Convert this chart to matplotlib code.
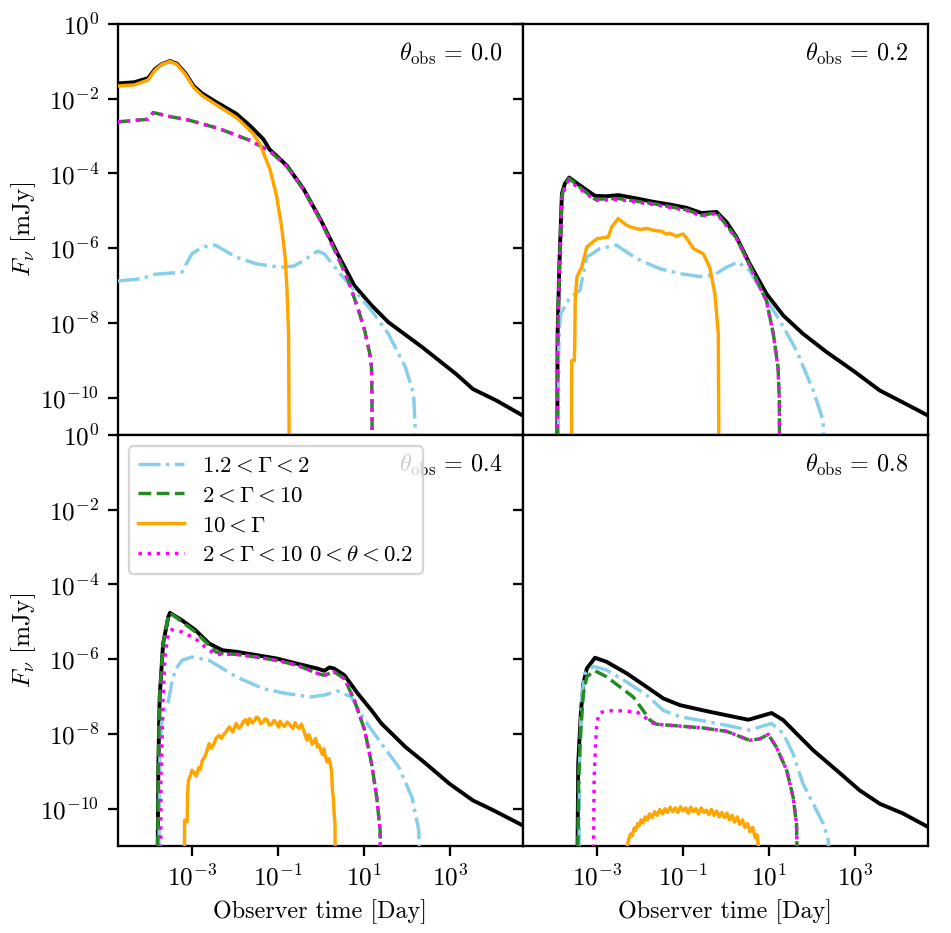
import numpy as np
import matplotlib
matplotlib.use("Agg")
import matplotlib.pyplot as plt
from matplotlib.ticker import NullLocator

plt.rcParams['mathtext.fontset'] = 'cm'
plt.rcParams['font.family'] = ['serif']
plt.rcParams['font.serif'] = ['cmr10']
plt.rcParams['axes.formatter.use_mathtext'] = True
plt.rcParams['axes.unicode_minus'] = False
plt.rcParams['font.size'] = 10

# ---------------- data (log10 of time [day] and log10 of flux [mJy]) ----------------
angles = ["0.0", "0.2", "0.4", "0.8"]
labels = [r"$1.2 < \Gamma < 2$", r"$2 < \Gamma < 10$", r"$10 < \Gamma$",
          r"$2 < \Gamma < 10\ 0 < \theta < 0.2$"]
xticks = [1e-3, 1e-1, 1e1, 1e3]
yticks = [1e0, 1e-2, 1e-4, 1e-6, 1e-8, 1e-10]

# theta_obs = 0.0
tl_black_t = [-4.73, -4.34, -4.02, -3.86, -3.71, -3.51, -3.35, -3.15, -2.96, -2.76, -2.45, -1.97, -1.66, -1.34, -1.19, -0.79, -0.40, 0.00, 0.39, 0.78, 1.18, 1.57, 2.36, 3.15, 3.54, 4.09, 4.70]
tl_black_f = [-1.59, -1.56, -1.45, -1.21, -1.08, -0.99, -1.06, -1.32, -1.66, -1.86, -2.08, -2.40, -2.71, -3.08, -3.36, -3.79, -4.42, -5.25, -6.15, -7.00, -7.53, -7.98, -8.65, -9.37, -9.77, -10.08, -10.48]
tl_sky_t = [-4.73, -4.18, -3.86, -3.23, -3.15, -3.00, -2.76, -2.45, -1.97, -1.50, -0.95, -0.63, -0.40, -0.08, 0.08, 0.39, 0.78, 1.18, 1.57, 1.97, 2.16, 2.28]
tl_sky_f = [-6.88, -6.82, -6.70, -6.64, -6.46, -6.15, -5.97, -5.92, -6.24, -6.42, -6.51, -6.48, -6.33, -6.08, -6.15, -6.60, -7.13, -7.67, -8.29, -9.19, -9.90, -13.0]
tl_green_t = [-4.73, -4.02, -3.90, -3.55, -3.08, -2.37, -1.66, -1.19, -0.79, -0.40, 0.00, 0.39, 0.63, 0.86, 1.02, 1.14, 1.18, 1.19, 1.20]
tl_green_f = [-2.62, -2.55, -2.37, -2.47, -2.57, -2.80, -3.11, -3.40, -3.81, -4.44, -5.27, -6.22, -6.85, -7.60, -8.20, -8.83, -9.19, -10.08, -13.0]
tl_orange_t = [-4.73, -4.34, -4.02, -3.86, -3.71, -3.51, -3.35, -3.15, -2.96, -2.76, -2.45, -1.97, -1.82, -1.58, -1.42, -1.18, -1.03, -0.91, -0.83, -0.79, -0.75, -0.73]
tl_orange_f = [-1.66, -1.63, -1.50, -1.24, -1.09, -1.00, -1.08, -1.35, -1.70, -1.92, -2.15, -2.50, -2.66, -2.93, -3.20, -3.90, -4.60, -5.45, -6.25, -7.04, -8.29, -13.0]
tl_mag_t = tl_green_t
tl_mag_f = tl_green_f

# theta_obs = 0.2
tr_black_t = [-3.93, -3.92, -3.88, -3.82, -3.75, -3.65, -3.51, -3.24, -3.05, -2.78, -2.51, -2.08, -1.69, -1.31, -0.92, -0.57, -0.22, 0.01, 0.24, 0.55, 0.94, 1.33, 1.79, 2.34, 2.96, 3.58, 4.12, 4.70]
tr_black_f = [-13.0, -8.29, -6.51, -4.54, -4.27, -4.11, -4.23, -4.45, -4.60, -4.61, -4.58, -4.67, -4.76, -4.83, -4.92, -5.06, -5.03, -5.30, -5.70, -6.42, -7.22, -7.80, -8.29, -8.78, -9.28, -9.81, -10.13, -10.48]
tr_sky_t = [-3.91, -3.90, -3.88, -3.85, -3.63, -3.40, -3.32, -3.24, -2.93, -2.55, -2.08, -1.54, -1.07, -0.61, -0.30, 0.01, 0.28, 0.55, 0.86, 1.25, 1.64, 2.03, 2.26, 2.30]
tr_sky_f = [-13.0, -9.00, -8.20, -7.76, -7.31, -7.13, -6.68, -6.24, -6.01, -5.92, -6.28, -6.55, -6.68, -6.76, -6.73, -6.51, -6.37, -6.60, -7.22, -7.94, -8.74, -9.81, -10.62, -13.0]
tr_green_t = [-3.93, -3.92, -3.88, -3.82, -3.75, -3.65, -3.51, -3.24, -3.05, -2.51, -1.69, -0.92, -0.57, -0.22, 0.24, 0.63, 0.94, 1.10, 1.21, 1.24, 1.25]
tr_green_f = [-13.0, -8.40, -6.60, -4.60, -4.30, -4.13, -4.27, -4.52, -4.69, -4.67, -4.81, -4.97, -5.12, -5.05, -5.72, -6.65, -7.40, -8.29, -9.19, -10.08, -13.0]
tr_orange_t = [-3.60, -3.59, -3.53, -3.52, -3.51, -3.47, -3.36, -3.24, -3.01, -2.74, -2.66, -2.51, -2.31, -2.20, -2.00, -1.85, -1.69, -1.50, -1.40, -1.31, -1.15, -1.00, -0.90, -0.76, -0.53, -0.38, -0.26, -0.18, -0.16]
tr_orange_f = [-13.0, -9.01, -9.01, -8.50, -7.40, -6.77, -6.51, -5.97, -5.75, -5.70, -5.43, -5.21, -5.39, -5.44, -5.50, -5.47, -5.52, -5.55, -5.62, -5.60, -5.68, -5.62, -5.76, -6.01, -6.15, -6.51, -7.22, -8.29, -13.0]
tr_mag_t = tr_green_t
tr_mag_f = [-13.0, -8.50, -6.70, -4.70, -4.40, -4.18, -4.32, -4.55, -4.72, -4.70, -4.83, -4.99, -5.14, -5.07, -5.74, -6.67, -7.42, -8.31, -9.21, -10.10, -13.0]

# theta_obs = 0.4
bl_black_t = [-3.81, -3.78, -3.75, -3.67, -3.55, -3.51, -3.23, -2.92, -2.60, -2.29, -1.97, -1.50, -1.03, -0.55, -0.08, 0.08, 0.20, 0.31, 0.55, 0.86, 1.18, 1.41, 1.97, 2.44, 2.99, 3.54, 4.01, 4.70]
bl_black_f = [-13.0, -8.79, -7.01, -5.58, -4.87, -4.76, -4.96, -5.22, -5.58, -5.76, -5.80, -5.89, -5.98, -6.12, -6.25, -6.31, -6.22, -6.25, -6.43, -6.92, -7.37, -7.72, -8.35, -8.79, -9.33, -9.78, -10.04, -10.45]
bl_sky_t = [-3.78, -3.75, -3.71, -3.63, -3.55, -3.47, -3.39, -3.23, -3.00, -2.60, -1.97, -1.34, -0.79, -0.24, 0.08, 0.39, 0.71, 1.02, 1.41, 1.81, 2.12, 2.28, 2.32]
bl_sky_f = [-13.0, -8.79, -7.72, -7.37, -7.14, -6.65, -6.29, -6.03, -5.94, -6.03, -6.47, -6.79, -6.92, -7.01, -6.96, -6.85, -7.01, -7.63, -8.26, -8.88, -9.69, -10.58, -13.0]
bl_green_t = [-3.81, -3.78, -3.75, -3.67, -3.55, -3.51, -3.23, -2.92, -2.60, -2.45, -2.29, -1.97, -1.50, -1.03, -0.55, -0.08, 0.08, 0.31, 0.55, 0.78, 1.02, 1.18, 1.30, 1.38, 1.40]
bl_green_f = [-13.0, -8.79, -7.01, -5.58, -4.87, -4.76, -5.00, -5.27, -5.63, -5.80, -5.85, -5.87, -5.94, -6.03, -6.16, -6.38, -6.43, -6.34, -6.52, -7.10, -7.90, -8.79, -9.69, -10.58, -13.0]
bl_orange_t = [-3.18, -3.17, -3.15, -3.11, -3.10, -3.08, -3.03, -3.00, -2.95, -2.90, -2.84, -2.80, -2.76, -2.70, -2.65, -2.60, -2.55, -2.50, -2.44, -2.37, -2.31, -2.25, -2.19, -2.13, -2.05, -1.97, -1.91, -1.85, -1.80, -1.75, -1.70, -1.66, -1.60, -1.55, -1.50, -1.45, -1.40, -1.34, -1.30, -1.25, -1.20, -1.15, -1.09, -1.03, -0.98, -0.95, -0.90, -0.85, -0.78, -0.71, -0.65, -0.60, -0.55, -0.50, -0.45, -0.40, -0.36, -0.32, -0.28, -0.25, -0.20, -0.16, -0.12, -0.08, -0.04, 0.00, 0.04, 0.07, 0.11, 0.15, 0.19, 0.22, 0.25, 0.27, 0.29, 0.31, 0.33, 0.34]
bl_orange_f = [-13.0, -10.31, -10.31, -10.35, -9.60, -9.24, -9.10, -8.97, -9.05, -9.12, -8.90, -8.95, -8.71, -8.62, -8.45, -8.26, -8.38, -8.30, -8.12, -8.04, -8.12, -8.00, -7.92, -7.81, -7.95, -7.72, -7.85, -7.78, -7.66, -7.62, -7.75, -7.59, -7.70, -7.66, -7.55, -7.58, -7.72, -7.68, -7.60, -7.62, -7.76, -7.74, -7.64, -7.72, -7.82, -7.66, -7.74, -7.80, -7.68, -7.77, -7.86, -7.70, -7.80, -7.85, -7.74, -7.90, -8.05, -8.17, -8.02, -8.10, -8.28, -8.21, -8.12, -8.35, -8.30, -8.44, -8.55, -8.40, -8.62, -8.75, -8.66, -8.80, -9.00, -9.51, -9.70, -10.13, -10.40, -13.0]
bl_mag_t = [-3.73, -3.72, -3.71, -3.67, -3.63, -3.55, -3.47, -3.23, -2.92, -2.60, -2.45, -2.29, -1.97, -1.50, -1.03, -0.55, -0.08, 0.08, 0.31, 0.55, 0.78, 1.02, 1.18, 1.30, 1.38, 1.40]
bl_mag_f = [-13.0, -9.00, -8.79, -7.01, -5.94, -5.31, -5.21, -5.27, -5.45, -5.76, -5.87, -5.87, -5.87, -5.94, -6.03, -6.16, -6.38, -6.43, -6.34, -6.52, -7.10, -7.90, -8.79, -9.69, -10.58, -13.0]

# theta_obs = 0.8
br_black_t = [-3.47, -3.44, -3.38, -3.32, -3.24, -3.05, -2.78, -2.31, -1.85, -1.46, -1.07, -0.53, 0.01, 0.52, 0.79, 1.06, 1.33, 1.64, 2.03, 2.57, 3.11, 3.58, 4.12, 4.70]
br_black_f = [-13.0, -8.79, -7.46, -6.65, -6.25, -5.96, -6.07, -6.38, -6.74, -7.05, -7.23, -7.37, -7.50, -7.62, -7.53, -7.44, -7.63, -7.99, -8.44, -8.97, -9.51, -9.87, -10.13, -10.49]
br_sky_t = [-3.43, -3.41, -3.36, -3.28, -3.09, -2.78, -2.31, -1.85, -1.46, -1.07, -0.53, 0.01, 0.55, 0.79, 1.06, 1.33, 1.56, 1.79, 2.03, 2.26, 2.38, 2.41]
br_sky_f = [-13.0, -8.79, -7.01, -6.38, -6.19, -6.29, -6.61, -6.96, -7.37, -7.54, -7.65, -7.77, -7.90, -7.81, -7.72, -7.99, -8.53, -9.33, -9.87, -10.40, -10.85, -13.0]
br_green_t = [-3.47, -3.43, -3.38, -3.32, -3.24, -3.05, -2.78, -2.47, -2.16, -1.93, -1.77, -1.62, -1.07, -0.53, 0.01, 0.55, 0.79, 0.98, 1.17, 1.41, 1.56, 1.64, 1.68]
br_green_f = [-13.0, -9.24, -7.90, -6.92, -6.47, -6.31, -6.47, -6.74, -7.01, -7.37, -7.63, -7.74, -7.79, -7.84, -7.93, -8.17, -8.13, -8.01, -8.35, -8.97, -9.69, -10.40, -13.0]
br_orange_t = [-2.31, -2.30, -2.26, -2.22, -2.18, -2.14, -2.10, -2.06, -2.02, -1.98, -1.93, -1.88, -1.83, -1.78,
               -1.72, -1.66, -1.60, -1.54, -1.48, -1.42, -1.36, -1.30, -1.24, -1.18, -1.12, -1.06, -1.00, -0.94,
               -0.88, -0.82, -0.76, -0.70, -0.64, -0.58, -0.52, -0.46, -0.40, -0.34, -0.28, -0.22, -0.16, -0.10,
               -0.04, 0.02, 0.08, 0.14, 0.20, 0.26, 0.32, 0.38, 0.44, 0.50, 0.56, 0.62, 0.68, 0.72, 0.75, 0.77]
br_orange_f = [-13.0, -11.00, -10.80, -10.68, -10.72, -10.52, -10.58, -10.40, -10.46, -10.30, -10.38, -10.22, -10.30, -10.14,
               -10.24, -10.08, -10.18, -10.02, -10.14, -10.00, -10.10, -9.96, -10.08, -9.98, -10.10, -9.95, -10.06, -9.98,
               -10.12, -9.96, -10.08, -10.00, -10.14, -9.98, -10.10, -10.04, -10.16, -10.02, -10.18, -10.06, -10.22, -10.10,
               -10.24, -10.12, -10.30, -10.18, -10.36, -10.22, -10.42, -10.30, -10.50, -10.40, -10.62, -10.50, -10.78, -10.70, -10.95, -13.0]
br_mag_t = [-3.10, -3.07, -3.04, -3.01, -2.95, -2.78, -2.47, -2.08, -1.93, -1.77, -1.62, -1.07, -0.53, 0.01, 0.55, 0.79, 0.98, 1.17, 1.41, 1.56, 1.64, 1.68]
br_mag_f = [-13.0, -9.24, -8.35, -7.72, -7.44, -7.38, -7.38, -7.41, -7.50, -7.68, -7.74, -7.79, -7.84, -7.93, -8.17, -8.13, -8.01, -8.35, -8.97, -9.69, -10.40, -13.0]

panels = [
    (tl_black_t, tl_black_f, tl_sky_t, tl_sky_f, tl_green_t, tl_green_f, tl_orange_t, tl_orange_f, tl_mag_t, tl_mag_f),
    (tr_black_t, tr_black_f, tr_sky_t, tr_sky_f, tr_green_t, tr_green_f, tr_orange_t, tr_orange_f, tr_mag_t, tr_mag_f),
    (bl_black_t, bl_black_f, bl_sky_t, bl_sky_f, bl_green_t, bl_green_f, bl_orange_t, bl_orange_f, bl_mag_t, bl_mag_f),
    (br_black_t, br_black_f, br_sky_t, br_sky_f, br_green_t, br_green_f, br_orange_t, br_orange_f, br_mag_t, br_mag_f),
]

# ---------------- figure ----------------
DPI = 165
fig, axes = plt.subplots(2, 2, sharex=True, sharey=True, figsize=(951 / DPI, 933 / DPI), dpi=DPI)
fig.subplots_adjust(left=0.1236, right=0.9758, top=0.9743, bottom=0.0932, wspace=0, hspace=0)

def P(a):
    return 10.0 ** np.asarray(a)

lw = 1.5
for k, ax in enumerate(axes.flat):
    bt, bf, st, sf, gt, gf, ot, of, mt, mf = panels[k]
    ax.plot(P(bt), P(bf), color='black', lw=1.7, zorder=2)
    ax.plot(P(st), P(sf), color='skyblue', ls='-.', lw=lw, label=labels[0], zorder=3)
    ax.plot(P(gt), P(gf), color='forestgreen', ls='--', lw=lw, label=labels[1], zorder=3)
    ax.plot(P(ot), P(of), color='orange', ls='-', lw=lw, label=labels[2], zorder=3)
    ax.plot(P(mt), P(mf), color='magenta', ls=':', lw=lw, label=labels[3], zorder=4)
    ax.set_xscale('log')
    ax.set_yscale('log')
    ax.set_xlim(1.86e-5, 5.0e4)
    ax.set_ylim(1e-11, 1e0)
    ax.set_xticks(xticks)
    ax.set_yticks(yticks)
    ax.xaxis.set_minor_locator(NullLocator())
    ax.yaxis.set_minor_locator(NullLocator())
    ax.tick_params(labelsize=11, length=4.5, width=1.0)
    for s in ax.spines.values():
        s.set_linewidth(1.0)
    ax.text(0.95, 0.927, r"$\theta_{\rm obs}\, =\, " + angles[k] + "$", transform=ax.transAxes,
            ha='right', va='center', fontsize=10.5, zorder=1)

for ax in axes[:, 0]:
    ax.set_ylabel(r"$F_{\nu}$ [mJy]", fontsize=11)
    ax.yaxis.set_label_coords(-0.197, 0.5)
for ax in axes[1, :]:
    ax.set_xlabel("Observer time [Day]", fontsize=10.5)

axes[1, 0].legend(loc='upper left', fontsize=10, labelspacing=0.42)

fig.savefig("out.png", dpi=DPI)
